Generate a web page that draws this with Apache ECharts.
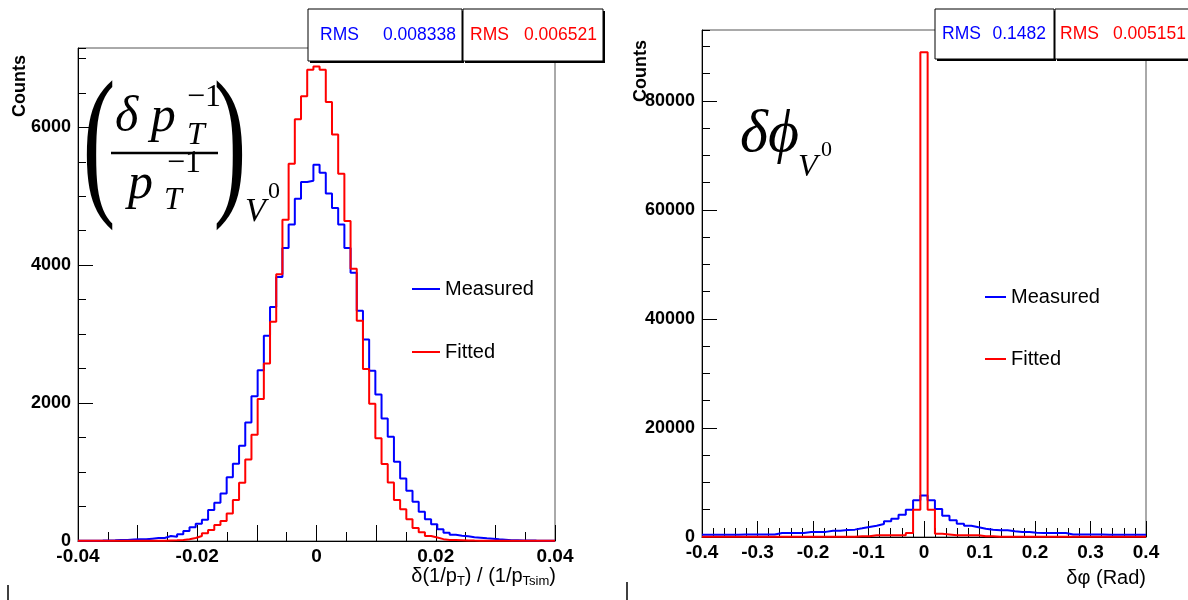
<!DOCTYPE html>
<html lang="en">
<head>
    <meta charset="UTF-8">
    <title>V0 resolution</title>
    <script type="text/javascript" src="https://cdn.jsdelivr.net/npm/echarts@6/dist/echarts.min.js"></script>
    <style>
        *{ margin:0; padding:0; }
        #main { width:1188px; height:600px; background:#fff; }
    </style>
</head>
<body>
<div id="main"></div>
<script type="text/javascript">
    // left panel: delta(1/pT)/(1/pTsim), 77 bins on [-0.04, 0.04]
    var binWidthLeft = 0.08 / 77;
    var measuredLeft = [5,5,5,6,8,10, 15,15,20,24,24,34,43,43,72,63,97,145,198,250,310,450,555,690,925,1120,1380,1720,2100,2478,2975,3395,3830,4250,4590,4965,5207,5226,
        5458,
        5342,5038,4830,4590,4250,3890,3340,2922,2468,2125,1777,1512,1150,908,727,570,425,314,242,169,121,90,77,68,53,48,39,34,24,19,12,10,8,8,6,5,5,5];
    var fittedLeft = [2,2,2,2,3,3,3,3,3,4,4,4,5, 5,8,10,15,24,43,72,111,160,232,290,400,594,845,1183,1540,2058,2575,3180,3870,4660,5470,6115,6450,6835,
        6883,
        6835,6366,5897,5327,4640,3950,3195,2495,1990,1490,1115,850,594,462,316,190,128,72,50,27,15,15,12, 8,6,5,4,4,3,3,3,2,2,2,2,2,2,2];

    // right panel: delta phi (rad), 61 bins on [-0.4, 0.4]
    var binWidthRight = 0.8 / 61;
    var measuredRight = [420,420,430,430,430,440,440,450,450,460, 734,734,734,750, 900,920,940, 1160,1160, 1300,1350,
        1590,1840,2080,2390,2880,3370,4100,5020,6730,
        7590,
        6730,5140,3920,3060,2450,2080,1775,1530,1350,1220,1220,1040,920,920, 760,740,734,734,720,
        460,450,450,440,440,430,430,430,420,420,420];
    var fittedRight = [30,30,30,30,30,30,30,30,30,30,30,30,30,30,30,30,30,30,30,30,30,
        120,120, 300,300,300,300,300, 734,5020,
        88900,
        5020,600,450,300,300,300,300,120,120,
        30,30,30,30,30,30,30,30,30,30,30,30,30,30,30,30,30,30,30,30,30];

    var statsLeft = [['RMS', '0.008338'], ['RMS', '0.006521']];
    var statsRight = [['RMS', '0.1482'], ['RMS', '0.005151']];
    var legendNames = ['Measured', 'Fitted'];

    var BLUE = '#0000ff', RED = '#ff0000';
    var SANS = 'Liberation Sans, Arial, sans-serif';
    var SERIF = 'Liberation Serif, Times New Roman, serif';

    // bin contents -> step points (left edges + final right edge)
    function hist(counts, w) {
        var lo = -w * counts.length / 2;
        var pts = counts.map(function (c, i) { return [lo + i * w, c]; });
        pts.push([lo + counts.length * w, counts[counts.length - 1]]);
        return pts;
    }

    function xAxisCfg(idx, min, max, interval, minorSplit, fmt) {
        return {
            gridIndex: idx, type: 'value', min: min, max: max, interval: interval, position: 'bottom',
            axisLine: { show: true, onZero: false, lineStyle: { color: '#000', width: 1 } },
            axisTick: { show: true, inside: true, length: 16, lineStyle: { color: '#000' } },
            minorTick: { show: true, splitNumber: minorSplit, length: 9, lineStyle: { color: '#000' } },
            splitLine: { show: false },
            axisLabel: { formatter: fmt, fontFamily: SANS, fontWeight: 'bold', fontSize: 19, color: '#000', margin: 6 }
        };
    }
    function yMajor(idx, max, interval) {
        return {
            gridIndex: idx, type: 'value', min: 0, max: max, interval: interval, position: 'left',
            axisLine: { show: true, onZero: false, lineStyle: { color: '#000' } },
            axisTick: { show: true, inside: true, length: 15, lineStyle: { color: '#000' } },
            splitLine: { show: false },
            axisLabel: {
                showMaxLabel: false, fontFamily: SANS, fontWeight: 'bold', fontSize: 18, color: '#000', margin: 7,
                formatter: function (v) { return String(Math.round(v)); }
            }
        };
    }
    function yMinor(idx, max, interval) {
        return {
            gridIndex: idx, type: 'value', min: 0, max: max, interval: interval, position: 'left', offset: 0,
            axisLine: { show: false, onZero: false },
            axisTick: { show: true, inside: true, length: 8, lineStyle: { color: '#000' } },
            splitLine: { show: false },
            axisLabel: { show: false }
        };
    }
    function histSeries(name, xi, yi, counts, w, color) {
        return {
            name: name, type: 'line', xAxisIndex: xi, yAxisIndex: yi, step: 'end',
            data: hist(counts, w), showSymbol: false, silent: true,
            lineStyle: { color: color, width: 2 }, itemStyle: { color: color }
        };
    }

    function statBox(x, y, w, h, label, value, color, labelLeft, valueRight) {
        return [
            { type: 'rect', z: 100, shape: { x: x + 2, y: y + 2, width: w, height: h }, style: { fill: '#000' } },
            { type: 'rect', z: 101, shape: { x: x, y: y, width: w, height: h }, style: { fill: '#fff', stroke: '#000', lineWidth: 1 } },
            { type: 'text', z: 102, x: labelLeft, y: y + h / 2, style: { text: label, fill: color, fontFamily: SANS, fontSize: 17.5, align: 'left', verticalAlign: 'middle' } },
            { type: 'text', z: 102, x: valueRight, y: y + h / 2, style: { text: value, fill: color, fontFamily: SANS, fontSize: 17.5, align: 'right', verticalAlign: 'middle' } }
        ];
    }
    function legendItem(x1, x2, y, name, color) {
        return [
            { type: 'line', z: 100, shape: { x1: x1, y1: y, x2: x2, y2: y }, style: { stroke: color, lineWidth: 2 } },
            { type: 'text', z: 100, x: x2 + 5, y: y, style: { text: name, fill: '#000', fontFamily: SANS, fontSize: 20, align: 'left', verticalAlign: 'middle' } }
        ];
    }
    function serifText(x, y, text, size, italic, align) {
        return { type: 'text', z: 100, x: x, y: y, style: { text: text, fill: '#000', fontFamily: SERIF, fontSize: size, fontStyle: italic ? 'italic' : 'normal', align: align || 'left', verticalAlign: 'middle' } };
    }

    var graphics = [];
    graphics = graphics.concat(statBox(308, 9, 154, 52, statsLeft[0][0], statsLeft[0][1], BLUE, 320, 456));
    graphics = graphics.concat(statBox(463, 9, 140, 52, statsLeft[1][0], statsLeft[1][1], RED, 470, 597));
    graphics = graphics.concat(statBox(935, 9, 119, 50, statsRight[0][0], statsRight[0][1], BLUE, 942, 1046));
    graphics = graphics.concat(statBox(1055, 9, 140, 50, statsRight[1][0], statsRight[1][1], RED, 1060, 1186));
    graphics = graphics.concat(legendItem(412, 440, 289, legendNames[0], BLUE));
    graphics = graphics.concat(legendItem(412, 440, 352, legendNames[1], RED));
    graphics = graphics.concat(legendItem(985, 1006, 297, legendNames[0], BLUE));
    graphics = graphics.concat(legendItem(985, 1006, 359, legendNames[1], RED));

    // y titles
    graphics.push({ type: 'text', x: 20, y: 55, rotation: Math.PI / 2, style: { text: 'Counts', fill: '#000', fontFamily: SANS, fontWeight: 'bold', fontSize: 18, align: 'right', verticalAlign: 'middle' } });
    graphics.push({ type: 'text', x: 641, y: 40, rotation: Math.PI / 2, style: { text: 'Counts', fill: '#000', fontFamily: SANS, fontWeight: 'bold', fontSize: 18, align: 'right', verticalAlign: 'middle' } });

    // x titles
    var subRich = {
        a: { fontFamily: SANS, fontSize: 20, lineHeight: 22, verticalAlign: 'top', fill: '#000' },
        s: { fontFamily: SANS, fontSize: 13, lineHeight: 14, verticalAlign: 'bottom', fill: '#000' }
    };
    graphics.push({ type: 'text', x: 556, y: 566, style: { text: '{a|δ(1/p}{s|T}{a|) / (1/p}{s|Tsim}{a|)}', rich: subRich, align: 'right', verticalAlign: 'top' } });
    graphics.push({ type: 'text', x: 1146, y: 578, style: { text: 'δφ (Rad)', fill: '#000', fontFamily: SANS, fontSize: 20, align: 'right', verticalAlign: 'middle' } });

    // stray marks at the bottom
    graphics.push({ type: 'line', shape: { x1: 8, y1: 585, x2: 8, y2: 600 }, style: { stroke: '#000', lineWidth: 1.5 } });
    graphics.push({ type: 'line', shape: { x1: 627, y1: 582, x2: 627, y2: 600 }, style: { stroke: '#000', lineWidth: 1.5 } });

    // left formula (delta pT^-1 / pT^-1)_V0
    function paren(x, txt) {
        var t = serifText(x, 152, txt, 165, false, 'center');
        t.scaleX = 0.6;
        return t;
    }
    graphics.push(paren(99, '('));
    graphics.push(paren(230, ')'));
    graphics.push(serifText(115, 118, 'δ p', 50, true));
    graphics.push(serifText(187, 136, 'T', 32, true));
    graphics.push(serifText(187, 98, '−1', 32, false));
    graphics.push({ type: 'line', z: 100, shape: { x1: 111, y1: 153, x2: 218, y2: 153 }, style: { stroke: '#000', lineWidth: 2.5 } });
    graphics.push(serifText(128, 185, 'p', 50, true));
    graphics.push(serifText(164, 201, 'T', 32, true));
    graphics.push(serifText(167, 164, '−1', 32, false));
    graphics.push(serifText(245, 212, 'V', 34, true));
    graphics.push(serifText(268, 192, '0', 24, false));

    // right formula delta phi_V0
    graphics.push(serifText(740, 135, 'δϕ', 60, true));
    graphics.push(serifText(798, 168, 'V', 32, true));
    graphics.push(serifText(821, 150, '0', 22, false));

    var option = {
        animation: false,
        backgroundColor: '#fff',
        grid: [
            { left: 78, top: 48, width: 477, height: 493, show: true, borderColor: '#555', borderWidth: 1, containLabel: false },
            { left: 702, top: 30, width: 444, height: 507, show: true, borderColor: '#555', borderWidth: 1, containLabel: false }
        ],
        xAxis: [
            xAxisCfg(0, -0.04, 0.04, 0.01, 2, function (v) {
                var k = Math.round(v / 0.01);
                if (k % 2 !== 0) return '';
                return k === 0 ? '0' : (k / 100).toFixed(2);
            }),
            xAxisCfg(1, -0.4, 0.4, 0.1, 5, function (v) {
                var k = Math.round(v / 0.1);
                return k === 0 ? '0' : (k / 10).toFixed(1);
            })
        ],
        yAxis: [
            yMajor(0, 7150, 2000),
            yMinor(0, 7150, 500),
            yMajor(1, 93000, 20000),
            yMinor(1, 93000, 5000)
        ],
        series: [
            histSeries('Measured', 0, 0, measuredLeft, binWidthLeft, BLUE),
            histSeries('Fitted', 0, 0, fittedLeft, binWidthLeft, RED),
            histSeries('Measured', 1, 2, measuredRight, binWidthRight, BLUE),
            histSeries('Fitted', 1, 2, fittedRight, binWidthRight, RED)
        ],
        graphic: graphics
    };

    var myChart = echarts.init(document.getElementById('main'));
    myChart.setOption(option);
</script>
</body>
</html>
